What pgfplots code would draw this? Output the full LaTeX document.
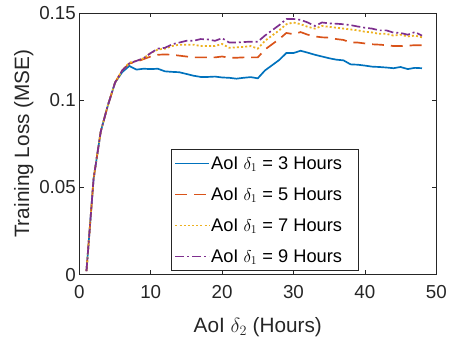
\documentclass[border=0pt]{standalone}
\usepackage{fontspec}
\setmainfont{Liberation Sans}
\usepackage{pgfplots}
\pgfplotsset{compat=1.18}
\definecolor{mblue}{rgb}{0,0.447,0.741}
\definecolor{mred}{rgb}{0.85,0.325,0.098}
\definecolor{myellow}{rgb}{0.929,0.694,0.125}
\definecolor{mpurple}{rgb}{0.494,0.184,0.556}
\definecolor{mgray}{rgb}{0.15,0.15,0.15}
\begin{document}
\begin{tikzpicture}
\begin{axis}[
  scale only axis, width=360bp, height=264bp,
  xmin=0, xmax=50, ymin=0, ymax=0.15,
  xtick={0,10,20,30,40,50},
  ytick={0,0.05,0.1,0.15}, yticklabels={0,0.05,0.1,0.15},
  tick align=inside, tick pos=both,
  major tick length=4.5bp,
  axis line style={draw=mgray, line width=0.6pt},
  every tick/.style={mgray, line width=0.6pt},
  /pgf/number format/assume math mode=true,
  tick label style={font=\fontsize{19}{22}\selectfont, text=mgray},
  xticklabel style={yshift=-7bp},
  xlabel={AoI $\delta_2$ (Hours)},
  ylabel={Training Loss (MSE)},
  label style={font=\fontsize{21}{24}\selectfont, text=mgray},
  xlabel style={yshift=-12bp},
  ylabel style={yshift=-1bp},
  legend style={at={(0.258,0.015)}, anchor=south west, draw=mgray,
    font=\fontsize{18.5}{21}\selectfont, row sep=15bp, inner xsep=3bp, inner ysep=6bp,
    nodes={inner sep=1bp}},
  legend cell align=left,
  legend image code/.code={\draw[#1, line width=1.8pt] (0bp,0bp) -- (34bp,0bp);},
]
\addplot[color=mblue, line width=1.7pt] coordinates {
(1,0.002)(2,0.055)(3,0.082)(4,0.097)(5,0.110)(6,0.116)(7,0.1196)(8,0.1175)(9,0.118)(10,0.1178)
(11,0.118)(12,0.1165)(13,0.1162)(14,0.116)(15,0.115)(16,0.114)(17,0.1133)(18,0.1133)(19,0.1135)(20,0.113)
(21,0.1128)(22,0.1123)(23,0.1128)(24,0.1132)(25,0.1125)(26,0.117)(27,0.120)(28,0.123)(29,0.127)(30,0.127)
(31,0.1283)(32,0.1272)(33,0.126)(34,0.125)(35,0.124)(36,0.1232)(37,0.1228)(38,0.1205)(39,0.1203)(40,0.1198)
(41,0.1192)(42,0.119)(43,0.1187)(44,0.1183)(45,0.119)(46,0.1178)(47,0.1185)(48,0.1183)};
\addlegendentry{\makebox[144bp][l]{AoI $\delta_1$ = 3 Hours}}
\addplot[color=mred, line width=1.7pt, dash pattern=on 12bp off 7bp] coordinates {
(1,0.002)(2,0.055)(3,0.082)(4,0.097)(5,0.110)(6,0.117)(7,0.121)(8,0.122)(9,0.1235)(10,0.125)
(11,0.126)(12,0.1262)(13,0.126)(14,0.1255)(15,0.125)(16,0.1245)(17,0.1245)(18,0.1245)(19,0.1245)(20,0.125)
(21,0.1243)(22,0.1243)(23,0.1245)(24,0.1245)(25,0.1245)(26,0.129)(27,0.132)(28,0.135)(29,0.1385)(30,0.1378)
(31,0.139)(32,0.1375)(33,0.1365)(34,0.136)(35,0.1358)(36,0.135)(37,0.1345)(38,0.133)(39,0.133)(40,0.1325)
(41,0.132)(42,0.1318)(43,0.1315)(44,0.131)(45,0.131)(46,0.1312)(47,0.1315)(48,0.1315)};
\addlegendentry{AoI $\delta_1$ = 5 Hours}
\addplot[color=myellow, line width=1.8pt, dash pattern=on 2bp off 2.2bp] coordinates {
(1,0.002)(2,0.055)(3,0.082)(4,0.097)(5,0.110)(6,0.117)(7,0.1215)(8,0.1225)(9,0.124)(10,0.127)
(11,0.129)(12,0.1295)(13,0.131)(14,0.1318)(15,0.1318)(16,0.1318)(17,0.131)(18,0.131)(19,0.131)(20,0.1322)
(21,0.130)(22,0.1303)(23,0.1305)(24,0.131)(25,0.1295)(26,0.134)(27,0.137)(28,0.140)(29,0.1435)(30,0.1445)
(31,0.1435)(32,0.142)(33,0.141)(34,0.1425)(35,0.142)(36,0.1415)(37,0.141)(38,0.1405)(39,0.140)(40,0.1392)
(41,0.1388)(42,0.138)(43,0.138)(44,0.137)(45,0.1375)(46,0.1365)(47,0.137)(48,0.136)};
\addlegendentry{AoI $\delta_1$ = 7 Hours}
\addplot[color=mpurple, line width=1.7pt, dash pattern=on 9bp off 3bp on 2bp off 3bp] coordinates {
(1,0.002)(2,0.055)(3,0.082)(4,0.097)(5,0.110)(6,0.117)(7,0.121)(8,0.1225)(9,0.124)(10,0.127)
(11,0.1295)(12,0.130)(13,0.132)(14,0.133)(15,0.134)(16,0.134)(17,0.135)(18,0.1348)(19,0.134)(20,0.1355)
(21,0.133)(22,0.133)(23,0.1333)(24,0.1335)(25,0.1335)(26,0.137)(27,0.140)(28,0.143)(29,0.1465)(30,0.1465)
(31,0.146)(32,0.1445)(33,0.1425)(34,0.1445)(35,0.144)(36,0.1438)(37,0.1435)(38,0.143)(39,0.1422)(40,0.1415)
(41,0.141)(42,0.140)(43,0.140)(44,0.1387)(45,0.1385)(46,0.1375)(47,0.139)(48,0.137)};
\addlegendentry{AoI $\delta_1$ = 9 Hours}
\end{axis}
\path[use as bounding box] ([xshift=-80bp,yshift=-75bp]current axis.south west) rectangle ([xshift=10bp,yshift=13bp]current axis.north east);
\end{tikzpicture}
\end{document}
